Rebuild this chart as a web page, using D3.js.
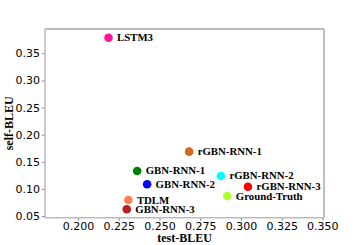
<!DOCTYPE html>
<html>
<head>
<meta charset="utf-8">
<script src="https://cdn.jsdelivr.net/npm/d3@7"></script>
<style>
  body { margin: 0; background: #fff; }
</style>
</head>
<body>
<div id="chart"></div>
<script>
// model names, scores and colours
const models = ['LSTM3', 'GBN-RNN-1', 'GBN-RNN-2', 'TDLM', 'GBN-RNN-3',
                'rGBN-RNN-1', 'rGBN-RNN-2', 'rGBN-RNN-3', 'Ground-Truth']
const testBleu = [0.2187, 0.2363, 0.2424, 0.2309, 0.2299, 0.2682, 0.2877, 0.3043, 0.2916]
const selfBleu = [0.3788, 0.1330, 0.1085, 0.0795, 0.0624, 0.1687, 0.1238, 0.1040, 0.0869]
const colors = ['#ff1493', '#008000', '#0000ff', '#ff7f50', '#b22222',
                '#d2691e', '#00ffff', '#ff0000', '#adff2f']
const xTicks = [0.200, 0.225, 0.250, 0.275, 0.300, 0.325, 0.350]
const yTicks = [0.05, 0.10, 0.15, 0.20, 0.25, 0.30, 0.35]

const width = 360
const height = 245
const mLeft = 45, mRight = 324, mTop = 29, mBottom = 217.7

const svg = d3.select('#chart')
    .append('svg')
    .attr('width', width)
    .attr('height', height)

// Scales
let x = d3.scaleLinear().domain([0.1797, 0.3510]).range([mLeft, mRight])
let y = d3.scaleLinear().domain([0.0469, 0.3948]).range([mBottom, mTop])

// Axes
let xAxis = svg.append('g')
    .attr('transform', `translate(0,${mBottom})`)
    .call(d3.axisBottom(x).tickValues(xTicks).tickFormat(d3.format('.3f')).tickSize(3).tickPadding(2))
let yAxis = svg.append('g')
    .attr('transform', `translate(${mLeft},0)`)
    .call(d3.axisLeft(y).tickValues(yTicks).tickFormat(d3.format('.2f')).tickSize(3).tickPadding(2))

for (let ax of [xAxis, yAxis]) {
    ax.select('.domain').remove()
    ax.selectAll('line').attr('stroke', '#888')
    ax.selectAll('text')
        .attr('fill', '#000')
        .style('font-family', 'DejaVu Sans, sans-serif')
        .style('font-size', '11px')
}

// Frame
svg.append('line').attr('x1', mLeft).attr('x2', mRight).attr('y1', mTop).attr('y2', mTop)
    .attr('stroke', '#777').attr('stroke-width', 1.2)
svg.append('line').attr('x1', mRight).attr('x2', mRight).attr('y1', mTop).attr('y2', mBottom)
    .attr('stroke', '#aaa').attr('stroke-width', 1.5)
svg.append('line').attr('x1', mLeft).attr('x2', mLeft).attr('y1', mTop).attr('y2', mBottom)
    .attr('stroke', '#bbb').attr('stroke-width', 1.5)
svg.append('line').attr('x1', mLeft).attr('x2', mRight).attr('y1', mBottom).attr('y2', mBottom)
    .attr('stroke', '#bbb').attr('stroke-width', 1.5)

// Points
let idx = d3.range(models.length)
svg.selectAll('circle')
    .data(idx)
    .enter()
    .append('circle')
    .attr('cx', i => x(testBleu[i]))
    .attr('cy', i => y(selfBleu[i]))
    .attr('r', 4.3)
    .attr('fill', i => colors[i])

svg.selectAll('text.lbl')
    .data(idx)
    .enter()
    .append('text')
    .attr('class', 'lbl')
    .attr('x', i => x(testBleu[i]) + 8.5)
    .attr('y', i => y(selfBleu[i]) + 3.5)
    .style('font-family', 'Liberation Serif, Times New Roman, serif')
    .style('font-weight', 'bold')
    .style('font-size', '10.8px')
    .text(i => models[i])

// Axis titles
svg.append('text')
    .attr('x', 184.5)
    .attr('y', 241.5)
    .attr('text-anchor', 'middle')
    .style('font-family', 'Liberation Serif, serif')
    .style('font-weight', 'bold')
    .style('font-size', '12px')
    .text('test-BLEU')

svg.append('text')
    .attr('transform', `translate(13,${(mTop + mBottom) / 2}) rotate(-90)`)
    .attr('text-anchor', 'middle')
    .style('font-family', 'Liberation Serif, serif')
    .style('font-weight', 'bold')
    .style('font-size', '12px')
    .text('self-BLEU')
</script>
</body>
</html>
